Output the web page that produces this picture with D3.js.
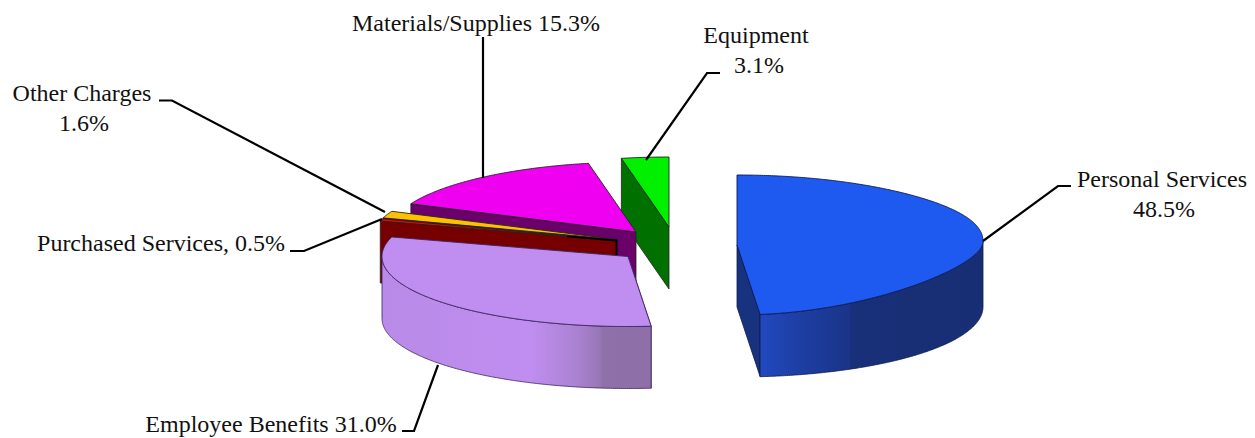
<!DOCTYPE html>
<html><head><meta charset="utf-8">
<style>html,body{margin:0;padding:0;background:#fff}svg{display:block}text{font-family:"Liberation Serif",serif;font-size:24px;fill:#111}</style>
<script src="https://cdnjs.cloudflare.com/ajax/libs/d3/7.8.5/d3.min.js"></script>
</head><body><div id="chart"></div>
<script>
const categories = ["Personal Services","Employee Benefits","Purchased Services","Other Charges","Materials/Supplies","Equipment"];
const shares = [48.5,31.0,0.5,1.6,15.3,3.1];
const topColors = ["#1f5af0","#c08df0","#ff0000","#ffc000","#f000f0","#00f000"];
const wallColors = ["#17327f","#c08df0","#760000","#760000","#6b006b","#007000"];
const labelLines = [["Personal Services","48.5%"],["Employee Benefits 31.0%"],["Purchased Services, 0.5%"],["Other Charges","1.6%"],["Materials/Supplies 15.3%"],["Equipment","3.1%"]];

// layout only
const W=1255,H=438,RX=246,RY=70,DEPTH=62;
const centers=[[737,245],[628,256.5],[616.5,240.5],[617,239.5],[636,232],[669,227]];
const labelPos=[[1162,187],[271,432],[161,251],[82,101],[476,31],[756,43]];
const line2Shift=[2,0,0,2,0,3];
const leaders=[[[1071,186],[1058,186],[983,241]],[[402,431],[414,431],[438,365]],[[290,251],[304,251],[382,219]],[[159,100.5],[172,100.5],[385,212]],[[483,37],[483,178]],[[720,73],[707,73],[646,160]]];

const svg=d3.select("#chart").append("svg").attr("width",W).attr("height",H);
const defs=svg.append("defs");
function grad(id,x1,x2,stops){
  const g=defs.append("linearGradient").attr("id",id).attr("gradientUnits","userSpaceOnUse").attr("x1",x1).attr("x2",x2).attr("y1",0).attr("y2",0);
  stops.forEach(s=>g.append("stop").attr("offset",s[0]).attr("stop-color",s[1]));
}
grad("gBlue",760,983,[[0,"#2149c0"],[.14,"#1e40a8"],[.4,"#1a3488"],[.41,"#183078"],[1,"#182e74"]]);
grad("gLilac",382,651,[[0,"#b98ae8"],[.55,"#c08ef0"],[.72,"#ab82d2"],[.81,"#9877b6"],[.82,"#8f70a8"],[1,"#8f6fa8"]]);

const pie=d3.pie().sort(null).startAngle(0).endAngle(2*Math.PI)(shares);
const line=d3.line();
const pt=(c,a,dy=0)=>[c[0]+RX*Math.sin(a),c[1]-RY*Math.cos(a)+dy];
// the nearest slice's top rim sits slightly flatter than a true ellipse
const ptFlat=(c,a)=>{
  const cs=Math.cos(a),s=Math.sin(a);
  const k=cs<0?cs*(1-.3*s*s):cs;
  return [c[0]+RX*s,c[1]-RY*k-4*Math.pow(s,6)];
};
const arcPts=(c,a0,a1,dy=0,fn=null)=>d3.range(0,Math.max(2,Math.ceil(Math.abs(a1-a0)*120))+1).map((i,_,r)=>{
  const a=a0+(a1-a0)*i/(r.length-1);
  return fn?fn(c,a):pt(c,a,dy);
});
const wall=(c,a,fill,stroke,fn=pt)=>{
  const e=fn(c,a);
  const f=pt(c,a,DEPTH);
  g.append("path").attr("d",line([c,e,f,[c[0],c[1]+DEPTH]])+"Z")
   .attr("fill",fill).attr("stroke",stroke).attr("stroke-width",.8);
};

const order=[5,4,3,2,1,0];
const g=svg.append("g").attr("stroke-linejoin","round");
order.forEach(i=>{
  const c=centers[i],p=pie[i],a0=p.startAngle,a1=p.endAngle;
  const outline=i===0?"#0c1a50":i===1?"#3b2560":"#222";
  const rim=i===0?ptFlat:null;
  // radial wall that faces the viewer
  if(a0>Math.PI/2) wall(c,a0,wallColors[i],outline);
  if(a1<Math.PI) wall(c,a1,wallColors[i],outline,rim||pt);
  // outer curved wall
  const f0=Math.max(a0,Math.PI/2),f1=Math.min(a1,3*Math.PI/2);
  if(f1>f0){
    const up=arcPts(c,f0,f1,0,rim),dn=arcPts(c,f0,f1,DEPTH).reverse();
    g.append("path").attr("d",line(up.concat(dn))+"Z")
     .attr("fill",i===0?"url(#gBlue)":i===1?"url(#gLilac)":wallColors[i]).attr("stroke",outline).attr("stroke-width",.8);
  }
  // top face
  g.append("path").attr("d",line([c].concat(arcPts(c,a0,a1,0,rim)))+"Z")
   .attr("fill",topColors[i]).attr("stroke",outline).attr("stroke-width",.9);
  if(i===2){
    const e=pt(c,a0),t=.21;
    g.append("path").attr("d",line([[c[0]+(e[0]-c[0])*t,c[1]+(e[1]-c[1])*t],c,[c[0],c[1]+15]])).attr("stroke","#000").attr("stroke-width",1.8).attr("fill","none");
  }
});

svg.append("g").selectAll("path").data(leaders).join("path")
  .attr("d",d=>line(d)).attr("fill","none").attr("stroke","#000").attr("stroke-width",2.2);

const lab=svg.append("g").selectAll("text").data(categories).join("text")
  .attr("text-anchor","middle")
  .attr("x",(d,i)=>labelPos[i][0]).attr("y",(d,i)=>labelPos[i][1]);
lab.selectAll("tspan").data((d,i)=>labelLines[i].map((t,j)=>({t,x:labelPos[i][0]+(j?line2Shift[i]:0)}))).join("tspan")
  .attr("x",d=>d.x).attr("dy",(d,j)=>j?30:0).text(d=>d.t);
</script></body></html>
